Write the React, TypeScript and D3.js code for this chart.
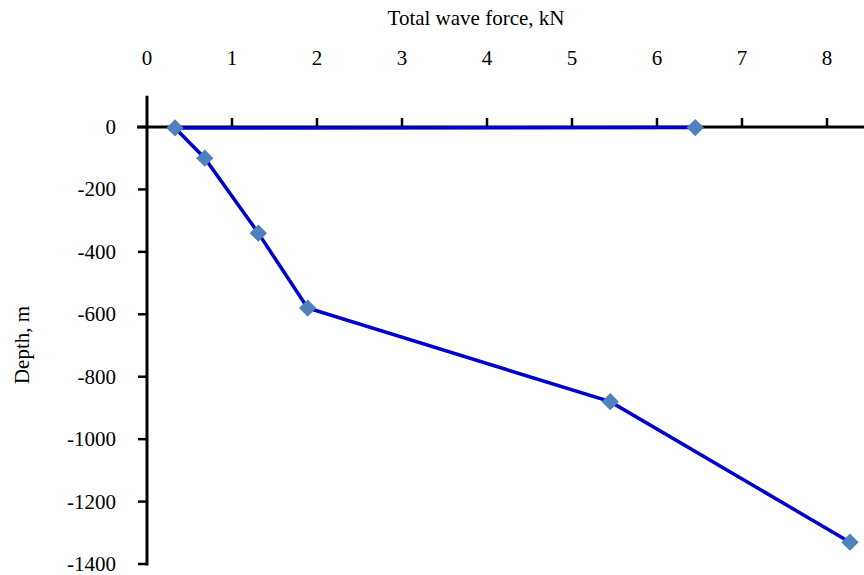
import React from "react";
import * as d3 from "d3";

const forceKN = [6.45, 0.33, 0.68, 1.31, 1.89, 5.45, 8.27];
const depthM = [-2, -3, -100, -340, -580, -880, -1330];
const xTicks = [0, 1, 2, 3, 4, 5, 6, 7, 8];
const yTicks = [0, -200, -400, -600, -800, -1000, -1200, -1400];
const xTitle = "Total wave force, kN";
const yTitle = "Depth, m";

const W = 864;
const H = 575;

export default function App() {
  const x = d3.scaleLinear().domain([0, 8]).range([147, 827]);
  const y = d3.scaleLinear().domain([0, -1400]).range([127, 564]);
  const pts = forceKN.map((v, i) => [x(v), y(depthM[i])] as [number, number]);
  const line = d3.line()(pts) || "";
  const font = "'Liberation Serif', 'Times New Roman', serif";
  const diamond = d3.symbol().type(d3.symbolSquare).size(150)() || "";
  return (
    <svg width={W} height={H} style={{ position: "absolute", left: 0, top: 0, background: "#fff" }} fontFamily={font}>
      <rect width={W} height={H} fill="#fff" />
      <text x={476} y={25} textAnchor="middle" fontSize={21}>{xTitle}</text>
      <text transform={`translate(29,345) rotate(-90)`} textAnchor="middle" fontSize={21}>{yTitle}</text>
      <line x1={137} x2={W} y1={y(0)} y2={y(0)} stroke="#000" strokeWidth={3} />
      {xTicks.map((t) => (
        <g key={"x" + t}>
          {t > 0 && <line x1={x(t)} x2={x(t)} y1={y(0)} y2={y(0) - 9} stroke="#000" strokeWidth={2.5} />}
          <text x={x(t)} y={65} textAnchor="middle" fontSize={21}>{t}</text>
        </g>
      ))}
      <line x1={x(0)} x2={x(0)} y1={y(100)} y2={y(-1400) + 1.5} stroke="#000" strokeWidth={3} />
      {yTicks.map((t) => (
        <g key={"y" + t}>
          <line x1={x(0) - 9} x2={x(0)} y1={y(t)} y2={y(t)} stroke="#000" strokeWidth={2.5} />
          <text x={116} y={y(t) + 7} textAnchor="end" fontSize={21}>{t}</text>
        </g>
      ))}
      <path d={line} fill="none" stroke="#0000CC" strokeWidth={3.5} />
      {pts.map((p, i) => (
        <path key={i} d={diamond} transform={`translate(${p[0]},${p[1]}) rotate(45)`} fill="#4F81BD" />
      ))}
    </svg>
  );
}
